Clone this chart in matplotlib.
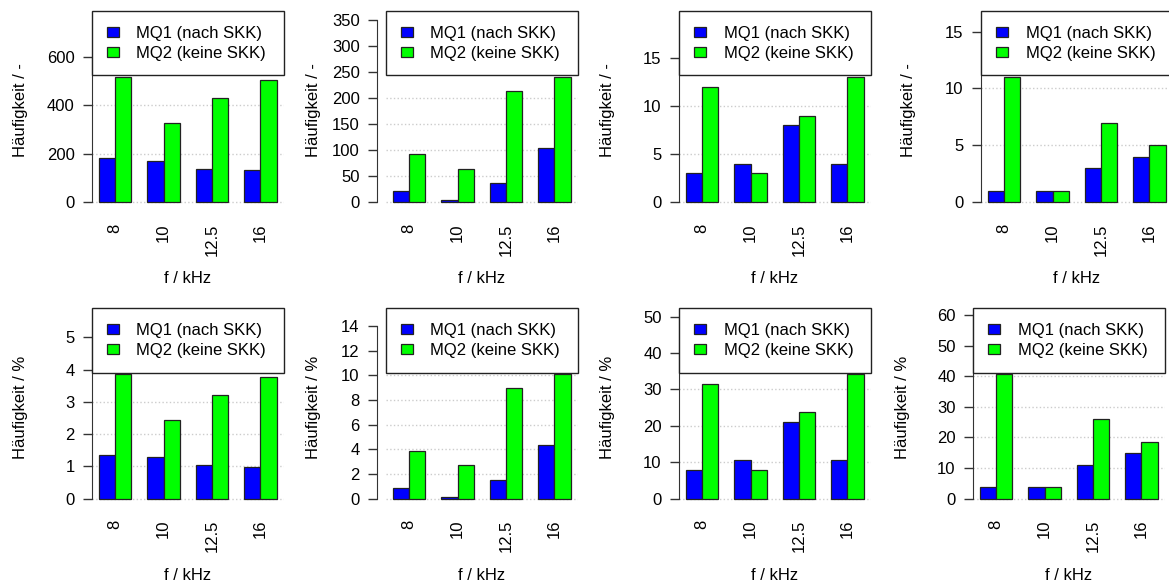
import matplotlib
matplotlib.use("Agg")
import matplotlib.pyplot as plt
import numpy as np

plt.rcParams['font.family'] = ['Liberation Sans', 'DejaVu Sans']
plt.rcParams['font.size'] = 12

freqs = ['8', '10', '12.5', '16']
series_names = ['MQ1 (nach SKK)', 'MQ2 (keine SKK)']
colors = ['#0000ff', '#00ff00']

# top row: counts
p1_mq1 = [181, 170, 137, 131]
p1_mq2 = [516, 326, 429, 506]
p2_mq1 = [21, 3, 36, 104]
p2_mq2 = [92, 64, 213, 240]
p3_mq1 = [3, 4, 8, 4]
p3_mq2 = [12, 3, 9, 13]
p4_mq1 = [1, 1, 3, 4]
p4_mq2 = [11, 1, 7, 5]

# bottom row: percent
p5_mq1 = [1.36, 1.28, 1.03, 0.99]
p5_mq2 = [3.86, 2.44, 3.22, 3.78]
p6_mq1 = [0.87, 0.13, 1.53, 4.38]
p6_mq2 = [3.89, 2.71, 8.94, 10.09]
p7_mq1 = [7.9, 10.5, 21.1, 10.5]
p7_mq2 = [31.6, 7.9, 23.7, 34.2]
p8_mq1 = [3.7, 3.7, 11.1, 14.8]
p8_mq2 = [40.7, 3.7, 25.9, 18.5]

yticks = [
    [0, 200, 400, 600],
    list(range(0, 351, 50)),
    [0, 5, 10, 15],
    [0, 5, 10, 15],
    list(range(0, 6)),
    list(range(0, 15, 2)),
    list(range(0, 51, 10)),
    list(range(0, 61, 10)),
]

panels = [
    (p1_mq1, p1_mq2, 'Häufigkeit / -'),
    (p2_mq1, p2_mq2, 'Häufigkeit / -'),
    (p3_mq1, p3_mq2, 'Häufigkeit / -'),
    (p4_mq1, p4_mq2, 'Häufigkeit / -'),
    (p5_mq1, p5_mq2, 'Häufigkeit / %'),
    (p6_mq1, p6_mq2, 'Häufigkeit / %'),
    (p7_mq1, p7_mq2, 'Häufigkeit / %'),
    (p8_mq1, p8_mq2, 'Häufigkeit / %'),
]

W, H = 1169, 584
fig = plt.figure(figsize=(W / 100, H / 100), dpi=100)

# layout in pixels: (left, top, bottom, spine offset, ylabel x)
ax_w = 191.6
layout = [
    (92, 11, 209.4, 0, 28),
    (386, 11, 209.4, 6.5, 321),
    (679, 11, 209.4, 0, 615),
    (981, 11, 209.4, 0, 916),
    (92, 308.3, 506, 0, 28),
    (386, 308.3, 506, 6.5, 321),
    (679, 308.3, 506, 0, 615),
    (973, 308.3, 506, 0, 910),
]

x = np.arange(len(freqs)) * 3 + 2

for i, (mq1, mq2, ylab) in enumerate(panels):
    left, top, bottom, off, ylx = layout[i]
    ax = fig.add_axes([left / W, 1 - bottom / H, ax_w / W, (bottom - top) / H])

    b1 = ax.bar(x - 0.5, mq1, width=1, color=colors[0], edgecolor='#222222', linewidth=0.9, zorder=3)
    b2 = ax.bar(x + 0.5, mq2, width=1, color=colors[1], edgecolor='#222222', linewidth=0.9, zorder=3)

    L = 1.47 * max(max(mq1), max(mq2))
    ax.set_ylim(-0.04 * L, 1.04 * L)
    ax.set_xlim(0.56, 12.44)

    ticks = yticks[i]
    ax.set_yticks(ticks)
    for t in ticks:
        ax.axhline(t, color='#cccccc', linestyle=':', linewidth=1, zorder=1)

    for s in ['top', 'right', 'bottom']:
        ax.spines[s].set_visible(False)
    ax.spines['left'].set_bounds(ticks[0], ticks[-1])
    ax.spines['left'].set_position(('outward', off))
    ax.spines['left'].set_color('#333333')
    ax.tick_params(axis='y', length=6.5, width=1, color='#333333', pad=6, labelsize=12)

    ax.set_xticks(x)
    ax.set_xticklabels(freqs, rotation=90, va='top')
    ax.tick_params(axis='x', length=0, pad=10, labelsize=12)

    ax.set_xlabel('f / kHz', fontsize=12)
    ax.xaxis.set_label_coords(0.5, -62 / (bottom - top))
    ax.set_ylabel(ylab, fontsize=12)
    ax.yaxis.set_label_coords((ylx - left) / ax_w, 0.5)

    leg = ax.legend([b1, b2], series_names, loc='upper left', bbox_to_anchor=(0, 1, 1, 0),
                    mode='expand', borderaxespad=0, borderpad=0.87, labelspacing=0.32,
                    handlelength=0.75, handleheight=0.55, handletextpad=1.05,
                    fancybox=False, framealpha=1, edgecolor='#222222', fontsize=12)
    leg.get_frame().set_linewidth(1)
    leg.set_zorder(5)

fig.savefig('out.png', dpi=100, facecolor='white')
